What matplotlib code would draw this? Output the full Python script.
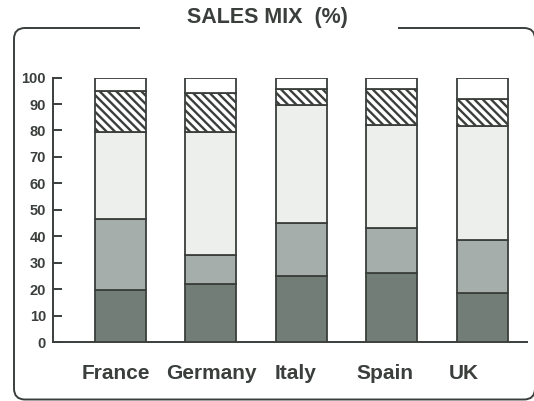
import numpy as np
import matplotlib
matplotlib.use("Agg")
import matplotlib.pyplot as plt
from matplotlib.patches import FancyBboxPatch, Rectangle

plt.rcParams['font.family'] = ['Liberation Sans', 'DejaVu Sans']
plt.rcParams['hatch.linewidth'] = 1.7

countries = ['France', 'Germany', 'Italy', 'Spain', 'UK']
# sales mix shares (%), stacked bottom to top
share_1 = [19.5, 22, 25, 26, 18.5]
share_2 = [27, 11, 20, 17, 20]
share_3 = [33, 46.5, 44.5, 39, 43]
share_4 = [15.5, 14.5, 6, 13.5, 10.5]
share_5 = [5, 6, 4.5, 4.5, 8]
yticks = list(range(0, 101, 10))

ink = '#3a3f3c'
fills = ['#737d78', '#a5aeaa', '#edefed', 'white', 'white']
hatches = [None, None, None, '\\\\\\\\', None]

fig = plt.figure(figsize=(5.34, 4.01), dpi=100)
ax = fig.add_axes([0.0993, 0.147, 0.8877, 0.6596])

x = np.arange(len(countries))
bottom = np.zeros(len(countries))
for vals, fc, h in zip([share_1, share_2, share_3, share_4, share_5], fills, hatches):
    ax.bar(x, vals, width=0.565, bottom=bottom, color=fc, edgecolor=ink,
           linewidth=1.3, hatch=h, zorder=3)
    bottom += np.array(vals)

ax.set_xlim(-0.747, 4.497)
ax.set_ylim(0, 100)
ax.set_yticks(yticks)
ax.set_yticklabels([str(t) for t in yticks], fontsize=10.5, fontweight='bold', color=ink)
ax.tick_params(axis='y', direction='in', length=6.5, width=1.4, color=ink, pad=5)

# category labels sit a little off the bar centres
label_shift = [-0.05, 0.01, -0.06, -0.07, -0.2]
ax.set_xticks(x + np.array(label_shift))
ax.set_xticklabels(countries, fontsize=15, fontweight='bold', color=ink)
ax.tick_params(axis='x', length=0, pad=16)

for s in ['top', 'right']:
    ax.spines[s].set_visible(False)
for s in ['left', 'bottom']:
    ax.spines[s].set_linewidth(1.4)
    ax.spines[s].set_color(ink)

# rounded frame around the chart, broken at the top for the title
frame = FancyBboxPatch((0.14, 0.015), 5.21, 3.715,
                       boxstyle='round,pad=0,rounding_size=0.11',
                       transform=fig.dpi_scale_trans, facecolor='none',
                       edgecolor=ink, linewidth=1.4)
fig.add_artist(frame)
fig.add_artist(Rectangle((1.40, 3.60), 2.58, 0.25, transform=fig.dpi_scale_trans,
                         facecolor='white', edgecolor='none'))
fig.text(0.5, 1 - 17 / 401, 'SALES MIX  (%)', ha='center', va='center',
         fontsize=15.5, fontweight='bold', color=ink)

fig.savefig('out.png', dpi=100)
